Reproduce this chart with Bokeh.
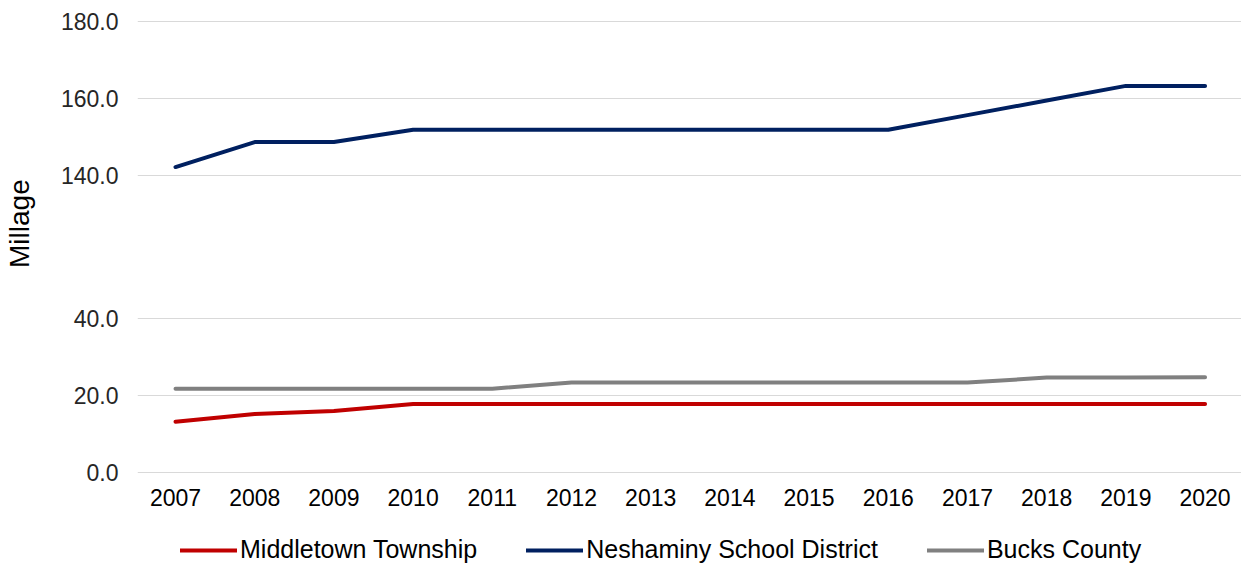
from bokeh.plotting import figure
from bokeh.models import FixedTicker, Legend, LegendItem, Range1d
from bokeh.layouts import column
from bokeh.embed import file_html
from bokeh.resources import INLINE

# ---- data ----
years = [2007, 2008, 2009, 2010, 2011, 2012, 2013, 2014, 2015, 2016, 2017, 2018, 2019, 2020]
middletown = [13.1, 15.1, 15.9, 17.7, 17.7, 17.7, 17.7, 17.7, 17.7, 17.7, 17.7, 17.7, 17.7, 17.7]
neshaminy = [142.2, 148.7, 148.7, 151.9, 151.9, 151.9, 151.9, 151.9, 151.9, 151.9, 155.7, 159.5, 163.3, 163.3]
bucks = [21.7, 21.7, 21.7, 21.7, 21.7, 23.3, 23.3, 23.3, 23.3, 23.3, 23.3, 24.6, 24.6, 24.7]
y_ticks = [0, 20, 40, 140, 160, 180]
series_names = ["Middletown Township", "Neshaminy School District", "Bucks County"]
colors = ["#C00000", "#002060", "#808080"]
y_title = "Millage"

# broken axis: 40 -> 140 compressed into a smaller gap
LOW_TOP = 40
HIGH_BOTTOM = 140
GAP = 37.14


def brk(v):
    return v if v <= LOW_TOP else v - HIGH_BOTTOM + LOW_TOP + GAP


FONT = "Liberation Sans"

p = figure(width=1241, height=519, output_backend="svg", toolbar_location=None,
           x_range=Range1d(2006.52, 2020.46), y_range=Range1d(-0.6, 117.7),
           min_border_left=137, min_border_right=0, min_border_top=19, min_border_bottom=45)
p.outline_line_color = None
p.background_fill_color = "white"
p.border_fill_color = "white"

for vals, c in zip([middletown, neshaminy, bucks], colors):
    p.line(years, [brk(v) for v in vals], line_color=c, line_width=4, line_cap="round",
           line_join="round")

# axes
p.xaxis.ticker = FixedTicker(ticks=years)
p.xaxis.major_label_overrides = {y: str(y) for y in years}
p.xaxis.axis_line_color = None
p.xaxis.major_tick_line_color = None
p.xaxis.major_tick_out = 0
p.xaxis.major_tick_in = 0
p.xaxis.minor_tick_line_color = None
p.xaxis.minor_tick_out = 0
p.xaxis.major_label_standoff = 14
p.xaxis.major_label_text_font = FONT
p.xaxis.major_label_text_font_size = "23px"
p.xaxis.major_label_text_color = "#000000"

ytk = [brk(v) for v in y_ticks]
p.yaxis.ticker = FixedTicker(ticks=ytk)
p.yaxis.major_label_overrides = {brk(v): f"{v:.1f}" for v in y_ticks}
p.yaxis.axis_line_color = None
p.yaxis.major_tick_line_color = None
p.yaxis.major_tick_out = 0
p.yaxis.major_tick_in = 0
p.yaxis.minor_tick_line_color = None
p.yaxis.minor_tick_out = 0
p.yaxis.major_label_standoff = 19
p.yaxis.major_label_text_font = FONT
p.yaxis.major_label_text_font_size = "23px"
p.yaxis.major_label_text_color = "#262626"
# leading no-break spaces lift the (rotated) title above the frame centre, as in the original
p.yaxis.axis_label = "\u00a0" * 6 + y_title
p.yaxis.axis_label_text_font = FONT
p.yaxis.axis_label_text_font_size = "28px"
p.yaxis.axis_label_text_font_style = "normal"
p.yaxis.axis_label_text_color = "#000000"
p.yaxis.axis_label_standoff = 23

p.xgrid.grid_line_color = None
p.ygrid.ticker = FixedTicker(ticks=ytk)
p.ygrid.grid_line_color = "#D9D9D9"
p.ygrid.grid_line_width = 1

# legend strip below the chart
nan = float("nan")
leg = figure(width=1241, height=48, output_backend="svg", toolbar_location=None,
             x_range=Range1d(0, 1), y_range=Range1d(0, 1),
             x_axis_location=None, y_axis_location=None,
             min_border_left=0, min_border_right=0, min_border_top=0, min_border_bottom=0)
leg.outline_line_color = None
leg.xgrid.visible = False
leg.ygrid.visible = False
leg_renderers = [leg.line(x=[nan], y=[nan], line_color=c, line_width=4, line_cap="round")
                 for c in colors]
legend = Legend(items=[LegendItem(label=n, renderers=[r]) for n, r in zip(series_names, leg_renderers)],
                orientation="horizontal", location=(43, 3),
                glyph_width=57, glyph_height=20, label_standoff=3, spacing=49,
                padding=0, margin=0, border_line_color=None, background_fill_alpha=0,
                label_text_font=FONT, label_text_font_size="25px", label_text_color="#000000")
leg.add_layout(legend, "center")

open("out.html", "w").write(file_html(column(p, leg, spacing=0), INLINE))
